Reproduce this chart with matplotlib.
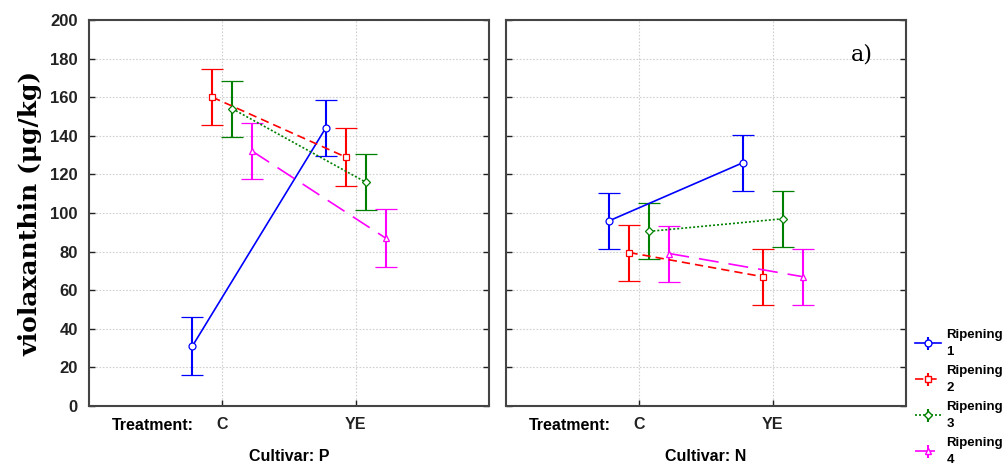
import matplotlib.pyplot as plt
import numpy as np

treatments = ["C", "YE"]
cultivars = ["P", "N"]
ripening = ["Ripening\n1", "Ripening\n2", "Ripening\n3", "Ripening\n4"]

# means per cultivar -> ripening stage -> [C, YE]
means_P = [[31, 144], [160, 129], [154, 116], [132, 87]]
means_N = [[96, 126], [79.5, 67], [90.5, 97], [79, 67]]
err_P = [[15, 14.5], [14.5, 15], [14.5, 14.5], [14.5, 15]]
err_N = [[14.5, 14.5], [14.5, 14.5], [14.5, 14.5], [14.5, 14.5]]

colors = ["#0000ff", "#ff0000", "#008000", "#ff00ff"]
styles = ["-", (0, (5, 3)), (0, (1.2, 1.2)), (0, (12, 6))]
markers = ["o", "s", "D", "^"]
msizes = [5, 5, 4, 5]
offsets = [-0.225, -0.075, 0.075, 0.225]

fig = plt.figure(figsize=(10.07, 4.67), dpi=100)
ax1 = fig.add_axes([89 / 1007, 1 - 406 / 467, 400 / 1007, 386 / 467])
ax2 = fig.add_axes([506 / 1007, 1 - 406 / 467, 400 / 1007, 386 / 467])

tick_font = dict(family="Liberation Sans", weight="bold", size=11.5)
xpos = np.array([1, 2])

for ax, means, errs, cult in [(ax1, means_P, err_P, "P"), (ax2, means_N, err_N, "N")]:
    for i in range(4):
        ax.errorbar(xpos + offsets[i], means[i], yerr=errs[i], color=colors[i],
                    linestyle=styles[i], linewidth=1.2, marker=markers[i],
                    markersize=msizes[i], markerfacecolor="white",
                    markeredgecolor=colors[i], markeredgewidth=0.9,
                    capsize=8, capthick=1.5, elinewidth=1.5, zorder=3)
    ax.set_xlim(0, 3)
    ax.set_ylim(0, 200)
    ax.set_xticks(xpos)
    ax.set_xticklabels(treatments, **tick_font)
    ax.set_yticks(np.arange(0, 201, 20))
    ax.grid(True, color="#d0d0d0", linestyle=(0, (1.5, 1.5)), linewidth=0.8)
    ax.set_axisbelow(True)
    ax.tick_params(direction="in", length=4, width=1, right=True, pad=8,
                   colors="#222222")
    for s in ax.spines.values():
        s.set_color("#444444")
        s.set_linewidth(1.5)
    ax.text(0.16, -0.03, "Treatment:", transform=ax.transAxes, ha="center",
            va="top", **tick_font)
    ax.text(0.5, -0.112, "Cultivar: " + cult, transform=ax.transAxes,
            ha="center", va="top", **tick_font)

for lab in ax1.get_yticklabels():
    lab.set_fontproperties(dict(family="Liberation Sans", weight="bold", size=12))
ax2.set_yticklabels([])

ax1.set_ylabel("violaxanthin (\u03bcg/kg)", family="DejaVu Serif", weight="bold",
               fontsize=18, labelpad=6)
ax2.text(0.89, 0.94, "a)", transform=ax2.transAxes, family="DejaVu Serif",
         fontsize=16, ha="center", va="top")

handles = []
for i in range(4):
    h = ax2.errorbar([], [], yerr=[], color=colors[i], linestyle=styles[i],
                     linewidth=1.2, marker=markers[i], markersize=msizes[i],
                     markerfacecolor="white", markeredgecolor=colors[i],
                     capsize=6, capthick=1.5, elinewidth=1.5)
    handles.append(h)
leg = fig.legend(handles, ripening, loc="upper left",
                 bbox_to_anchor=(912 / 1007, 1 - 326 / 467), frameon=False,
                 prop=dict(family="Liberation Sans", weight="bold", size=9.5),
                 handlelength=2.0, labelspacing=0.5, handletextpad=0.4,
                 borderaxespad=0, borderpad=0.2)
for t in leg.get_texts():
    t.set_linespacing(1.6)

fig.savefig("out.png", dpi=100)
